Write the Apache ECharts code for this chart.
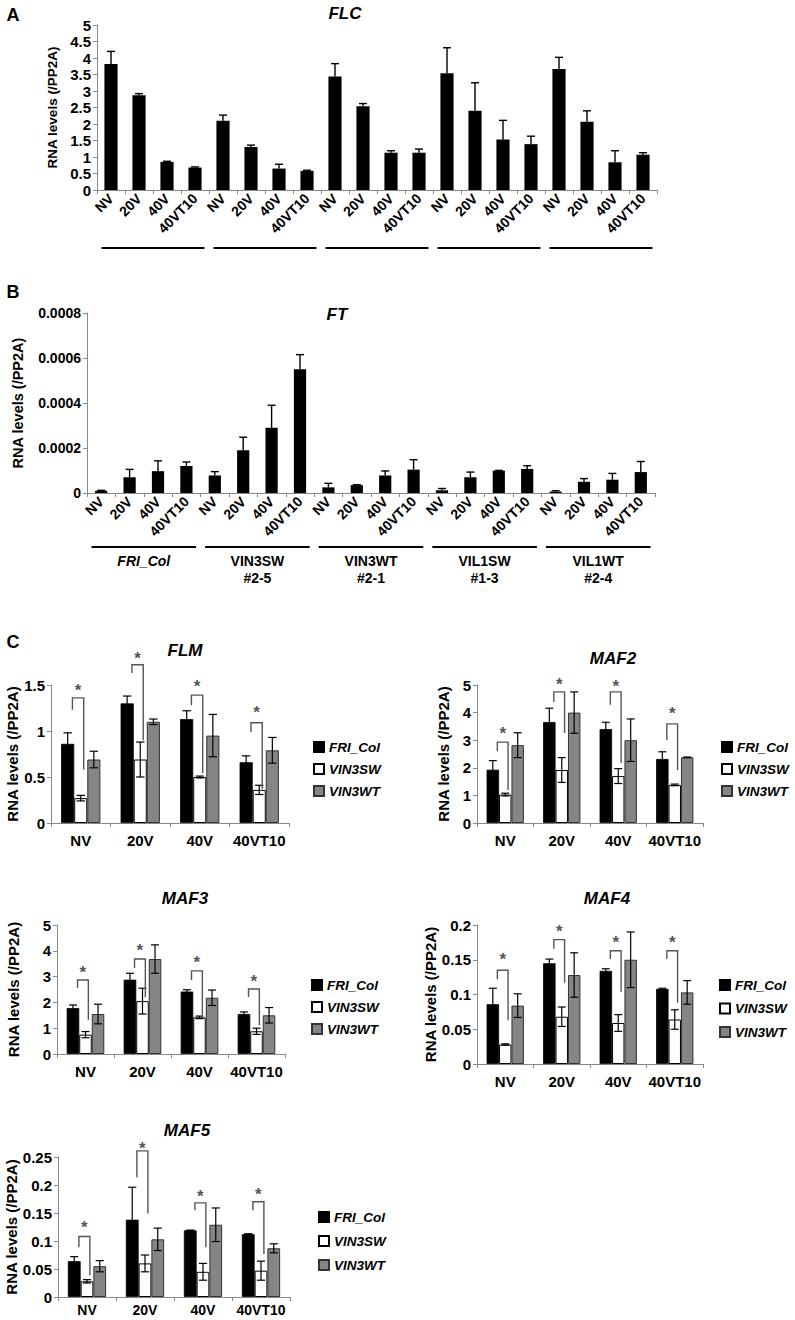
<!DOCTYPE html>
<html><head><meta charset="utf-8">
<script src="https://cdn.jsdelivr.net/npm/echarts@6/dist/echarts.min.js"></script>
<style>html,body{margin:0;padding:0;background:#fff}#c{width:795px;height:1320px}</style>
</head><body><div id="c"></div>
<script>
// ---------- data ----------
const treatments = ['NV', '20V', '40V', '40VT10'];
const abCategories = [].concat(treatments, treatments, treatments, treatments, treatments);
const genotypeLabels = ['FRI_Col', 'VIN3SW\n#2-5', 'VIN3WT\n#2-1', 'VIL1SW\n#1-3', 'VIL1WT\n#2-4'];
const genotypeRanges = [[0, 3], [4, 7], [8, 11], [12, 15], [16, 19]];
const seriesNames = ['FRI_Col', 'VIN3SW', 'VIN3WT'];

const flcValues = [3.82, 2.87, 0.85, 0.68, 2.10, 1.30, 0.65, 0.58, 3.44, 2.54, 1.13, 1.13, 3.54, 2.40, 1.53, 1.39, 3.67, 2.07, 0.84, 1.07];
const flcErr    = [0.38, 0.05, 0.02, 0.02, 0.17, 0.06, 0.13, 0.02, 0.39, 0.08, 0.06, 0.11, 0.77, 0.85, 0.58, 0.24, 0.35, 0.33, 0.35, 0.06];

const ftValues = [0.00001, 0.00007, 0.000097, 0.00012, 0.000078, 0.00019, 0.00029, 0.00055, 0.000025, 0.000035, 0.000078, 0.000104, 0.000012, 0.00007, 0.0000993, 0.000107, 0.000006, 0.00005, 0.000059, 0.000093];
const ftErr    = [0.000002, 0.000035, 0.000046, 0.000018, 0.000017, 0.000058, 0.0001, 0.000065, 0.000018, 0.000002, 0.00002, 0.000044, 0.000008, 0.000023, 0.000001, 0.000014, 0.000004, 0.000014, 0.000028, 0.000047];

const flmCol = [0.86, 1.30, 1.13, 0.66], flmColErr = [0.12, 0.08, 0.09, 0.07];
const flmSW  = [0.27, 0.69, 0.50, 0.36], flmSWErr  = [0.03, 0.19, 0.01, 0.05];
const flmWT  = [0.69, 1.10, 0.95, 0.79], flmWTErr  = [0.09, 0.03, 0.23, 0.14];
const flmBrackets = [[1.36, 1.23, 0.58, 1.48], [1.72, 1.63, 0.90, 1.83], [1.39, 1.28, 0.54, 1.53], [1.09, 0.99, 0.37, 1.25]];

const maf2Col = [1.93, 3.66, 3.40, 2.32], maf2ColErr = [0.33, 0.50, 0.25, 0.26];
const maf2SW  = [1.03, 1.92, 1.70, 1.38], maf2SWErr  = [0.05, 0.45, 0.27, 0.03];
const maf2WT  = [2.82, 4.00, 3.00, 2.38], maf2WTErr  = [0.45, 0.75, 0.77, 0.01];
const maf2Brackets = [[2.93, 2.60, 1.20, 3.37], [4.75, 4.38, 3.26, 5.18], [4.75, 4.28, 2.17, 5.10], [3.59, 3.00, 1.92, 4.10]];

const maf3Col = [1.78, 2.88, 2.42, 1.55], maf3ColErr = [0.12, 0.25, 0.07, 0.08];
const maf3SW  = [0.75, 2.05, 1.42, 0.88], maf3SWErr  = [0.12, 0.50, 0.05, 0.12];
const maf3WT  = [1.55, 3.68, 2.18, 1.50], maf3WTErr  = [0.38, 0.55, 0.30, 0.30];
const maf3Brackets = [[2.87, 2.56, 1.32, 3.33], [3.68, 3.33, 2.20, 4.15], [3.22, 2.87, 1.51, 3.72], [2.52, 2.21, 1.12, 2.98]];

const maf4Col = [0.086, 0.145, 0.134, 0.108], maf4ColErr = [0.023, 0.006, 0.003, 0.001];
const maf4SW  = [0.028, 0.068, 0.059, 0.064], maf4SWErr  = [0.001, 0.014, 0.012, 0.014];
const maf4WT  = [0.084, 0.128, 0.150, 0.103], maf4WTErr  = [0.017, 0.032, 0.040, 0.017];
const maf4Brackets = [[0.135, 0.122, 0.063, 0.156], [0.179, 0.166, 0.117, 0.196], [0.163, 0.151, 0.104, 0.180], [0.163, 0.151, 0.088, 0.180]];

const maf5Col = [0.064, 0.138, 0.119, 0.112], maf5ColErr = [0.008, 0.058, 0.0005, 0.001];
const maf5SW  = [0.028, 0.060, 0.045, 0.047], maf5SWErr  = [0.003, 0.015, 0.015, 0.017];
const maf5WT  = [0.055, 0.103, 0.129, 0.087], maf5WTErr  = [0.010, 0.020, 0.030, 0.008];
const maf5Brackets = [[0.108, 0.089, 0.039, 0.131], [0.261, 0.214, 0.149, 0.273], [0.168, 0.155, 0.089, 0.186], [0.170, 0.155, 0.077, 0.190]];

// ---------- styling ----------
const FONT = 'Liberation Sans, Arial, sans-serif';
const AXIS_GRAY = '#8a8a8a';
const GAP_C = 0.34;
const barStyles = [
  {color: '#000', borderColor: '#000', borderWidth: 0.8},
  {color: '#fff', borderColor: '#000', borderWidth: 1},
  {color: '#858585', borderColor: '#333', borderWidth: 1}
];

function errUp(params, api) {
  const i = api.value(0), v = api.value(1), e = api.value(2);
  const p0 = api.coord([i, v]), p1 = api.coord([i, v + e]);
  const w = 4;
  return {type: 'group', children: [
    {type: 'line', shape: {x1: p0[0], y1: p0[1], x2: p1[0], y2: p1[1]}, style: {stroke: '#000', lineWidth: 1.4}},
    {type: 'line', shape: {x1: p1[0] - w, y1: p1[1], x2: p1[0] + w, y2: p1[1]}, style: {stroke: '#000', lineWidth: 1.4}}
  ]};
}
function makeErrC(k) {
  return function (params, api) {
    const i = api.value(0), v = api.value(1), e = api.value(2);
    const catW = api.size([1, 0])[0];
    const barW = catW * (1 - GAP_C) / 3;
    const x = api.coord([i, v])[0] + (k - 1) * barW;
    const yt = api.coord([i, v + e])[1], yb = api.coord([i, v - e])[1];
    const w = barW * 0.32;
    const st = {stroke: '#000', lineWidth: 1.2};
    return {type: 'group', children: [
      {type: 'line', shape: {x1: x, y1: yt, x2: x, y2: yb}, style: st},
      {type: 'line', shape: {x1: x - w, y1: yt, x2: x + w, y2: yt}, style: st},
      {type: 'line', shape: {x1: x - w, y1: yb, x2: x + w, y2: yb}, style: st}
    ]};
  };
}
function bracket(params, api) {
  const i = api.value(0), top = api.value(1), lb = api.value(2), rb = api.value(3), star = api.value(4);
  const catW = api.size([1, 0])[0];
  const cx = api.coord([i, top])[0];
  const xl = cx - 0.14 * catW, xr = cx + 0.05 * catW;
  const yt = api.coord([i, top])[1], yl = api.coord([i, lb])[1], yr = api.coord([i, rb])[1], ys = api.coord([i, star])[1];
  return {type: 'group', children: [
    {type: 'polyline', shape: {points: [[xl, yl], [xl, yt], [xr, yt], [xr, yr]]}, style: {stroke: '#555', fill: null, lineWidth: 1.4}},
    {type: 'text', style: {text: '*', x: (xl + xr) / 2, y: ys + 4, align: 'center', verticalAlign: 'middle', fontSize: 17, fontWeight: 'bold', fontFamily: FONT, fill: '#555'}}
  ]};
}
function makeGroupLine(offset, withLabels) {
  return function (params, api) {
    const s = api.value(0), e = api.value(1);
    const catW = api.size([1, 0])[0];
    const p0 = api.coord([s, 0]), p1 = api.coord([e, 0]);
    const x1 = p0[0] - catW / 2 + 4.5, x2 = p1[0] + catW / 2 - 4.5;
    const y = p0[1] + offset;
    const ch = [{type: 'line', shape: {x1: x1, y1: y, x2: x2, y2: y}, style: {stroke: '#000', lineWidth: 2}}];
    if (withLabels) {
      const lbl = genotypeLabels[params.dataIndex];
      ch.push({type: 'text', style: {text: lbl, x: (x1 + x2) / 2, y: y + 5, align: 'center', verticalAlign: 'top',
        fontSize: 14, fontWeight: 'bold', fontStyle: params.dataIndex === 0 ? 'italic' : 'normal', fontFamily: FONT, lineHeight: 17, fill: '#000'}});
    }
    return {type: 'group', children: ch};
  };
}

const grids = [
  {left: 97, top: 25, width: 560, height: 165},
  {left: 87, top: 313, width: 568, height: 180},
  {left: 51, top: 685, width: 238, height: 138},
  {left: 477, top: 685, width: 226, height: 138},
  {left: 57, top: 925, width: 228, height: 129},
  {left: 477, top: 925, width: 226, height: 139},
  {left: 58, top: 1157, width: 232, height: 140}
].map(g => Object.assign({outerBoundsMode: 'none', containLabel: false}, g));

function xAxisCfg(gi, data, abStyle, margin, size) {
  return {type: 'category', gridIndex: gi, data: data,
    axisLine: {lineStyle: {color: AXIS_GRAY, width: 1}},
    axisTick: {show: true, length: 4, lineStyle: {color: AXIS_GRAY}},
    axisLabel: abStyle
      ? {rotate: 45, margin: 6, fontSize: 14, fontWeight: 'bold', fontFamily: FONT, color: '#000', interval: 0}
      : {margin: margin, fontSize: size, fontWeight: 'bold', fontFamily: FONT, color: '#000', interval: 0}
  };
}
function yAxisCfg(gi, max, interval, gap, labelSize, nameSize) {
  return {type: 'value', gridIndex: gi, min: 0, max: max, interval: interval,
    name: 'RNA levels (/PP2A)', nameLocation: 'middle', nameGap: gap,
    nameTextStyle: {fontSize: nameSize, fontWeight: 'bold', fontFamily: FONT, color: '#000'},
    axisLine: {show: true, lineStyle: {color: AXIS_GRAY, width: 1}},
    axisTick: {show: true, length: 4, lineStyle: {color: AXIS_GRAY}},
    splitLine: {show: false},
    axisLabel: {fontSize: labelSize, fontWeight: 'bold', fontFamily: FONT, color: '#000', margin: 6}
  };
}

const xAxes = [xAxisCfg(0, abCategories, true), xAxisCfg(1, abCategories, true)];
const yAxes = [yAxisCfg(0, 5, 0.5, 25, 15, 13.5), yAxisCfg(1, 0.0008, 0.0002, 62, 14, 14.5)];
xAxes.push(xAxisCfg(2, treatments, false, 10, 15));
xAxes.push(xAxisCfg(3, treatments, false, 10, 15));
xAxes.push(xAxisCfg(4, treatments, false, 10, 15));
xAxes.push(xAxisCfg(5, treatments, false, 10, 15));
xAxes.push(xAxisCfg(6, treatments, false, 6, 14));
yAxes.push(yAxisCfg(2, 1.5, 0.5, 31, 15, 15));
yAxes.push(yAxisCfg(3, 5, 1, 26, 15, 15));
yAxes.push(yAxisCfg(4, 5, 1, 36, 15, 15));
yAxes.push(yAxisCfg(5, 0.2, 0.05, 25, 15, 15));
yAxes.push(yAxisCfg(6, 0.25, 0.05, 39, 15, 15));

const series = [];
// Panel A & B
series.push({type: 'bar', name: 'FLC', xAxisIndex: 0, yAxisIndex: 0, data: flcValues, barCategoryGap: '53%', itemStyle: {color: '#000'}, silent: true});
series.push({type: 'custom', name: 'FLC err', xAxisIndex: 0, yAxisIndex: 0, renderItem: errUp, clip: false, z: 5,
  data: flcValues.map((v, i) => [i, v, flcErr[i]]), encode: {x: 0, y: 1}});
series.push({type: 'custom', name: 'A groups', xAxisIndex: 0, yAxisIndex: 0, renderItem: makeGroupLine(58, false), clip: false,
  data: genotypeRanges.map(r => [r[0], r[1], 0]), encode: {x: [0, 1], y: 2}});
series.push({type: 'bar', name: 'FT', xAxisIndex: 1, yAxisIndex: 1, data: ftValues, barCategoryGap: '57%', itemStyle: {color: '#000'}, silent: true});
series.push({type: 'custom', name: 'FT err', xAxisIndex: 1, yAxisIndex: 1, renderItem: errUp, clip: false, z: 5,
  data: ftValues.map((v, i) => [i, v, ftErr[i]]), encode: {x: 0, y: 1}});
series.push({type: 'custom', name: 'B groups', xAxisIndex: 1, yAxisIndex: 1, renderItem: makeGroupLine(54, true), clip: false,
  data: genotypeRanges.map(r => [r[0], r[1], 0]), encode: {x: [0, 1], y: 2}});

// Panel C
const panels = [
  {gi: 2, vals: [flmCol, flmSW, flmWT], errs: [flmColErr, flmSWErr, flmWTErr], br: flmBrackets},
  {gi: 3, vals: [maf2Col, maf2SW, maf2WT], errs: [maf2ColErr, maf2SWErr, maf2WTErr], br: maf2Brackets},
  {gi: 4, vals: [maf3Col, maf3SW, maf3WT], errs: [maf3ColErr, maf3SWErr, maf3WTErr], br: maf3Brackets},
  {gi: 5, vals: [maf4Col, maf4SW, maf4WT], errs: [maf4ColErr, maf4SWErr, maf4WTErr], br: maf4Brackets},
  {gi: 6, vals: [maf5Col, maf5SW, maf5WT], errs: [maf5ColErr, maf5SWErr, maf5WTErr], br: maf5Brackets}
];
panels.forEach(p => {
  for (let k = 0; k < 3; k++) {
    series.push({type: 'bar', name: seriesNames[k], xAxisIndex: p.gi, yAxisIndex: p.gi, data: p.vals[k],
      barGap: '0%', barCategoryGap: (GAP_C * 100) + '%', itemStyle: barStyles[k], silent: true});
  }
  for (let k = 0; k < 3; k++) {
    series.push({type: 'custom', name: seriesNames[k] + ' err', xAxisIndex: p.gi, yAxisIndex: p.gi, renderItem: makeErrC(k), clip: false, z: 5,
      data: p.vals[k].map((v, i) => [i, v, p.errs[k][i]]), encode: {x: 0, y: 1}});
  }
  series.push({type: 'custom', name: 'sig', xAxisIndex: p.gi, yAxisIndex: p.gi, renderItem: bracket, clip: false, z: 6,
    data: p.br.map((b, i) => [i, b[0], b[1], b[2], b[3]]), encode: {x: 0, y: [1, 2, 3, 4]}});
});

function legendAt(left, top, gap) {
  return {show: true, orient: 'vertical', left: left, top: top, itemWidth: 10, itemHeight: 10, itemGap: gap, icon: 'rect',
    selectedMode: false, data: seriesNames,
    textStyle: {fontSize: 13.5, fontWeight: 'bold', fontStyle: 'italic', fontFamily: FONT, color: '#000', lineHeight: 14}};
}
const legends = [legendAt(308, 735, 8), legendAt(716, 735, 8), legendAt(306, 973, 8), legendAt(714, 973, 9.5), legendAt(313, 1205, 10)];

function txt(text, x, y, size, italic) {
  return {type: 'text', x: x, y: y, style: {text: text, align: 'center', verticalAlign: 'middle', fontSize: size, fontWeight: 'bold',
    fontStyle: italic ? 'italic' : 'normal', fontFamily: FONT, fill: '#000'}};
}
const graphics = [
  txt('A', 13, 15, 18, false), txt('B', 13, 292, 18, false), txt('C', 13, 642, 18, false),
  txt('FLC', 345, 13, 17, true), txt('FT', 337, 314, 17, true),
  txt('FLM', 185, 650, 17, true), txt('MAF2', 613, 658, 17, true),
  txt('MAF3', 185, 898, 17, true), txt('MAF4', 607, 898, 17, true), txt('MAF5', 187, 1130, 17, true)
];

const chart = echarts.init(document.getElementById('c'), null, {renderer: 'svg', width: 795, height: 1320});
chart.setOption({
  animation: false,
  backgroundColor: '#fff',
  grid: grids,
  xAxis: xAxes,
  yAxis: yAxes,
  legend: legends,
  series: series,
  graphic: graphics
});
</script>
</body></html>
